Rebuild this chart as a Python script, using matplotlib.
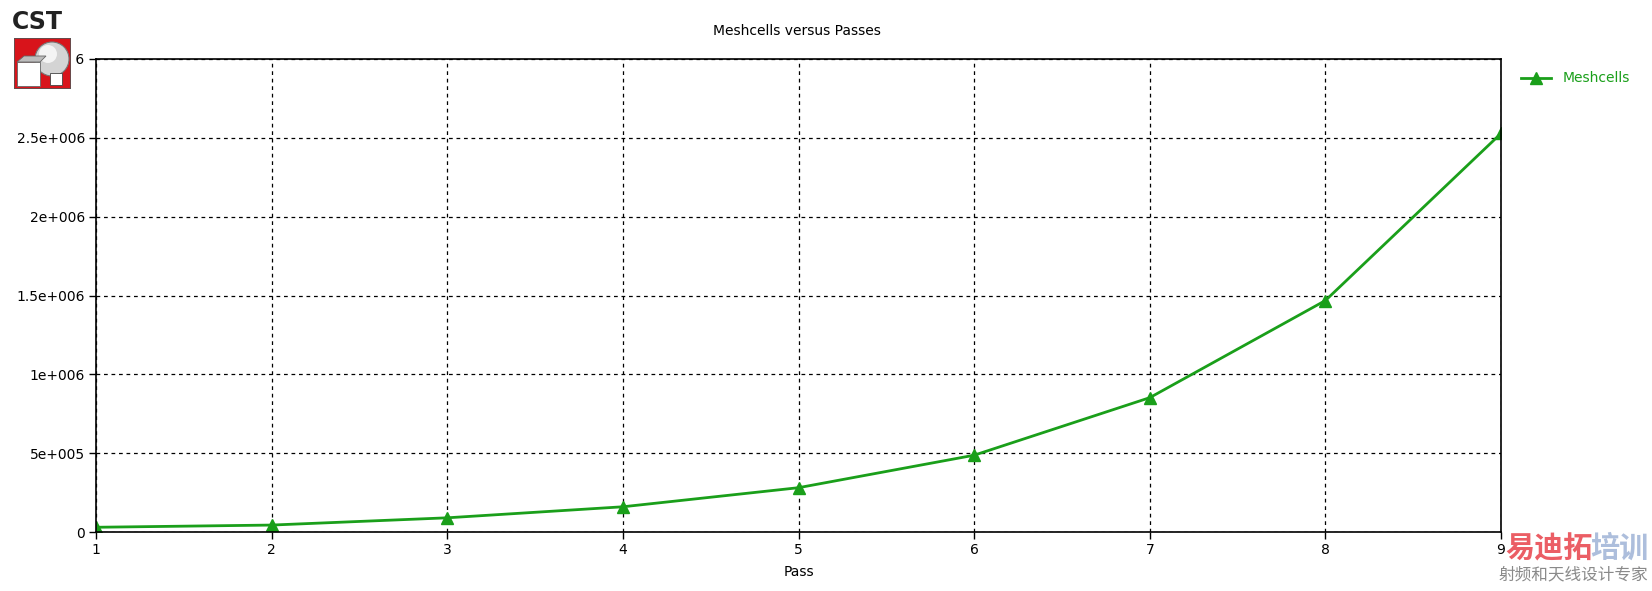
'Meshcells versus passes, CST style'
import matplotlib
matplotlib.use('Agg')
import matplotlib.pyplot as plt
from matplotlib.patches import Rectangle, Circle, Polygon

passes = [1, 2, 3, 4, 5, 6, 7, 8, 9]
meshcells = [30000, 44000, 90000, 160000, 281000, 487000, 852000, 1468000, 2528000]
yticks = [0, 500000, 1000000, 1500000, 2000000, 2500000, 3000000]
ytick_labels = ['0', '5e+005', '1e+006', '1.5e+006', '2e+006', '2.5e+006', '3e+006']

green = '#1a9f1a'
W, H = 1652, 591

fig = plt.figure(figsize=(W / 100, H / 100), dpi=100)
ax = fig.add_axes([96 / W, (H - 532) / H, 1405 / W, 473 / H])

ax.plot(passes, meshcells, color=green, lw=2, marker='^', ms=8, label='Meshcells')

ax.set_xlim(1, 9)
ax.set_ylim(0, 3000000)
ax.set_xticks(passes)
ax.set_yticks(yticks)
ax.set_yticklabels(ytick_labels)
ax.tick_params(direction='out', length=5, width=1, labelsize=10, pad=3, colors='black')
ax.grid(True, color='black', linestyle=(0, (3, 3)), lw=0.9)
for s in ax.spines.values():
    s.set_linewidth(1.2)

ax.set_xlabel('Pass', fontsize=10, labelpad=6)
fig.text(797 / W, 1 - 31 / H, 'Meshcells versus Passes', fontsize=10, ha='center', va='center')

# legend outside the plot on the right
ax.legend(loc='upper left', bbox_to_anchor=(1.005, 1.0), frameon=False, fontsize=10,
          handlelength=2.2, labelcolor=green, borderaxespad=0.5)

# CST logo (covers the top y label, as in the original)
fig.add_artist(Rectangle((8 / W, 1 - 94 / H), 68 / W, 58 / H, transform=fig.transFigure,
                         facecolor='white', edgecolor='none', zorder=5))
logo = fig.add_axes([14 / W, 1 - 89 / H, 57 / W, 51 / H], zorder=6)
logo.set_xlim(0, 57)
logo.set_ylim(0, 51)
logo.axis('off')
logo.add_patch(Rectangle((0, 0), 57, 51, facecolor='#d8141b', edgecolor='#555555', lw=1.2))
logo.add_patch(Circle((38, 30), 17, facecolor='#d4d4d4', edgecolor='#777777', lw=0.8))
logo.add_patch(Circle((34, 35), 9, facecolor='#f4f4f4', edgecolor='none'))
logo.add_patch(Polygon([(3, 27), (10, 33), (32, 33), (26, 27)], facecolor='#bdbdbd', edgecolor='#666666', lw=0.6))
logo.add_patch(Rectangle((3, 3), 23, 24, facecolor='white', edgecolor='#666666', lw=0.6))
logo.add_patch(Rectangle((36, 4), 12, 12, facecolor='white', edgecolor='#444444', lw=0.6))
fig.text(12 / W, 1 - 22 / H, 'CST', fontsize=17, fontweight='bold', color='#222222',
         ha='left', va='center', zorder=9)

# watermark
cjk = ['Noto Sans CJK SC', 'DejaVu Sans']
fig.text(1505 / W, 1 - 548 / H, '易迪拓', fontsize=21, fontweight='bold', color='#e8424a',
         alpha=0.85, ha='left', va='center', family=cjk, zorder=9)
fig.text(1648 / W, 1 - 548 / H, '培训', fontsize=21, fontweight='bold', color='#9fb3d6',
         alpha=0.85, ha='right', va='center', family=cjk, zorder=9)
fig.text(1648 / W, 1 - 575 / H, '射频和天线设计专家', fontsize=12, color='#8a8a8a',
         ha='right', va='center', family=cjk, zorder=9)

fig.savefig('out.png', dpi=100, facecolor='white')
